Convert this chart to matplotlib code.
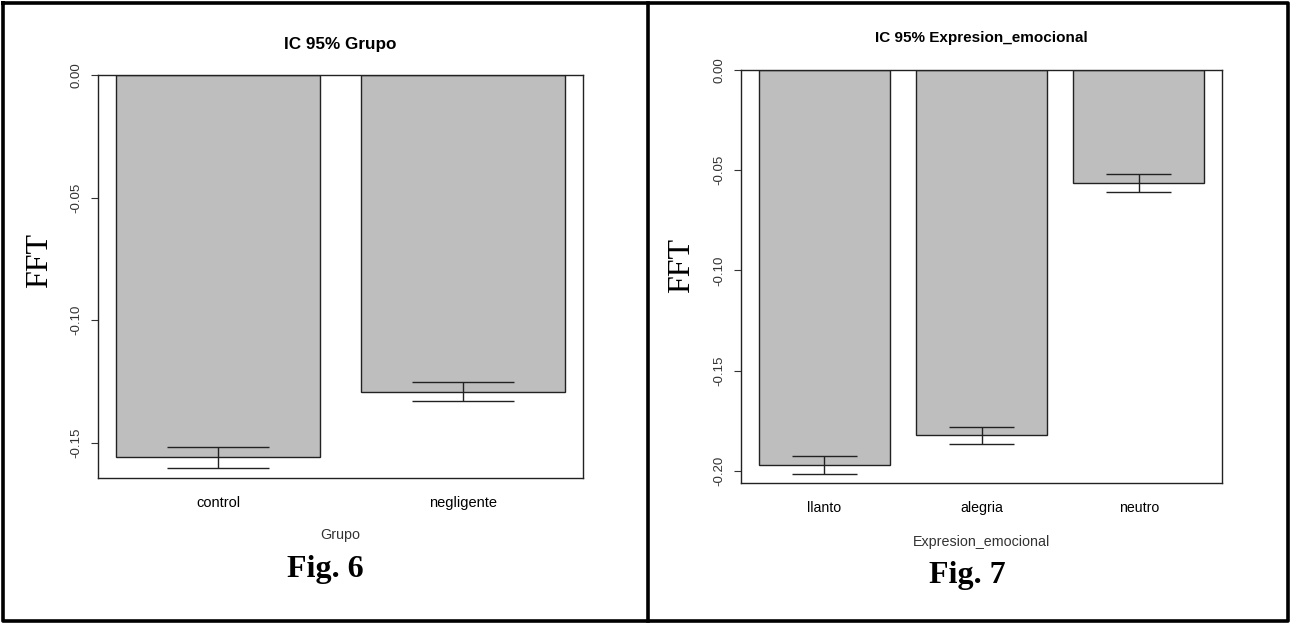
import matplotlib.pyplot as plt
from matplotlib.lines import Line2D

# Fig. 6 - FFT por grupo
grupos = ['control', 'negligente']
fft_grupo = [-0.1558, -0.1292]
ic_grupo_sup = [-0.1517, -0.1250]
ic_grupo_inf = [-0.1601, -0.1329]

# Fig. 7 - FFT por expresion emocional
expresiones = ['llanto', 'alegria', 'neutro']
fft_expr = [-0.1972, -0.1822, -0.0562]
ic_expr_sup = [-0.1927, -0.1779, -0.0520]
ic_expr_inf = [-0.2013, -0.1865, -0.0607]

W, H = 1290, 623
plt.rcParams['font.family'] = ['Liberation Sans', 'DejaVu Sans']
fig = plt.figure(figsize=(W / 100, H / 100), dpi=100)


def px(x0, y0, x1, y1):
    # caja en pixeles (desde arriba) -> fracciones de la figura
    return [x0 / W, 1 - y1 / H, (x1 - x0) / W, (y1 - y0) / H]


def barras_ic(ax, nombres, medias, sup, inf, ymin, ticks, fs):
    pos = [0.7 + 1.2 * i for i in range(len(nombres))]
    ax.bar(pos, medias, width=1.0, color='#bebebe', edgecolor='#222222', linewidth=1.0)
    ax.vlines(pos, inf, sup, color='#222222', linewidth=1.0)
    ax.hlines(sup, [p - 0.25 for p in pos], [p + 0.25 for p in pos], color='#222222', linewidth=1.0)
    ax.hlines(inf, [p - 0.25 for p in pos], [p + 0.25 for p in pos], color='#222222', linewidth=1.0)
    ancho = 0.2 + 1.2 * len(nombres) - 0.2
    margen = 0.04 * (ancho - 0.2)
    ax.set_xlim(0.2 - margen, ancho + margen)
    ax.set_ylim(ymin, 0)
    ax.set_xticks(pos)
    ax.set_xticklabels(nombres, fontsize=fs)
    ax.set_yticks(ticks)
    ax.set_yticklabels(['%.2f' % t for t in ticks], rotation=90, va='center', fontsize=9.5, color='#333333')
    ax.tick_params(axis='x', length=0, pad=13)
    ax.tick_params(axis='y', length=5, pad=6, color='#333333')
    for s in ax.spines.values():
        s.set_color('#222222')
        s.set_linewidth(1.0)


ax1 = fig.add_axes(px(98, 75, 583, 478))
barras_ic(ax1, grupos, fft_grupo, ic_grupo_sup, ic_grupo_inf, -0.1643, [0.0, -0.05, -0.10, -0.15], 10.5)

ax2 = fig.add_axes(px(741, 70, 1222, 483))
barras_ic(ax2, expresiones, fft_expr, ic_expr_sup, ic_expr_inf, -0.206, [0.0, -0.05, -0.10, -0.15, -0.20], 10.2)

# titulos, etiquetas y leyendas de figura
fig.text(340 / W, 1 - 44 / H, 'IC 95% Grupo', ha='center', va='center', fontsize=12.3, fontweight='bold')
fig.text(981 / W, 1 - 38 / H, 'IC 95% Expresion_emocional', ha='center', va='center', fontsize=11, fontweight='bold')
fig.text(340 / W, 1 - 535 / H, 'Grupo', ha='center', va='center', fontsize=10.3, color='#333333')
fig.text(981 / W, 1 - 542 / H, 'Expresion_emocional', ha='center', va='center', fontsize=10.3, color='#333333')
fig.text(40 / W, 1 - 260 / H, 'FFT', ha='center', va='center', rotation=90, fontsize=23, family='Liberation Serif')
fig.text(682 / W, 1 - 265 / H, 'FFT', ha='center', va='center', rotation=90, fontsize=23, family='Liberation Serif')
fig.text(325 / W, 1 - 570 / H, 'Fig. 6', ha='center', va='center', fontsize=23, fontweight='bold', family='Liberation Serif')
fig.text(967 / W, 1 - 575 / H, 'Fig. 7', ha='center', va='center', fontsize=23, fontweight='bold', family='Liberation Serif')

# marcos de los paneles
for xs, ys in [([2.5, 1287.5, 1287.5, 2.5, 2.5], [2.5, 2.5, 621, 621, 2.5]), ([647.5, 647.5], [2.5, 621])]:
    fig.add_artist(Line2D([x / W for x in xs], [1 - y / H for y in ys], color='black', linewidth=2.6))

fig.savefig('out.png', dpi=100)
